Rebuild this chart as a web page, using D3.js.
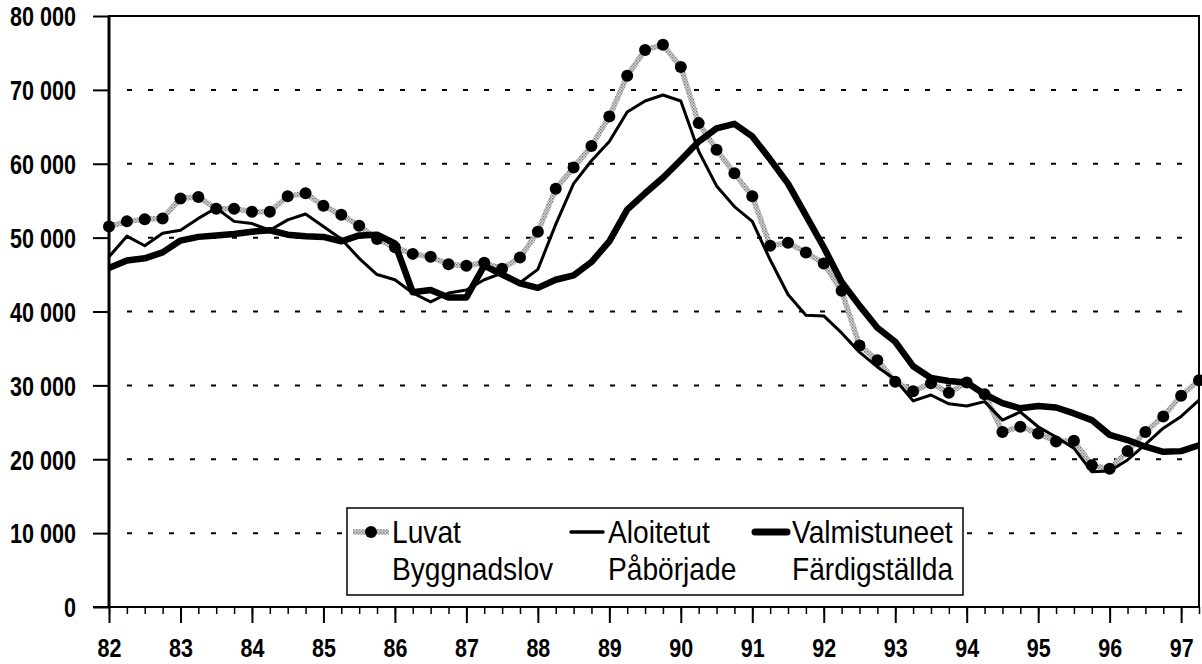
<!DOCTYPE html>
<html>
<head>
<meta charset="utf-8">
<script src="https://cdn.jsdelivr.net/npm/d3@7"></script>
<style>
    body { margin: 0; background: #fff; }
    svg { display: block; font-family: "Liberation Sans", Arial, sans-serif; }
    .tick text { font-weight: bold; fill: #000; }
    .legend text { font-size: 32px; fill: #000; }
</style>
</head>
<body>
<svg id="chart"></svg>
<script>
// Quarterly series, 1982 Q1 .. 1997 Q2 (one value per quarter)
const luvat = [
    51500, 52200, 52500, 52600, 55300, 55500, 53900, 53900, 53500, 53500,
    55600, 56000, 54300, 53100, 51600, 49800, 48700, 47800, 47400, 46400,
    46200, 46600, 45800, 47300, 50800, 56600, 59500, 62400, 66400, 71900,
    75400, 76100, 73100, 65500, 61900, 58700, 55600, 48900, 49300, 48000,
    46500, 42800, 35400, 33400, 30500, 29200, 30300, 29000, 30400, 28800,
    23700, 24400, 23500, 22400, 22500, 19200, 18700, 21100, 23700, 25800,
    28600, 30700
];

const aloitetut = [
    47400, 50200, 48900, 50600, 51000, 52600, 54000, 52200, 51900, 51000,
    52400, 53200, 51500, 49800, 47200, 45000, 44300, 42500, 41300, 42500,
    42900, 44300, 45200, 43900, 45700, 51800, 57300, 60400, 63000, 67000,
    68500, 69300, 68500, 61700, 57000, 54200, 52200, 47000, 42300, 39500,
    39400, 37100, 34500, 32500, 30800, 27900, 28700, 27500, 27200, 27800,
    25300, 26400, 24400, 23000, 21500, 18300, 18400, 19900, 22000, 24200,
    25800, 28000
];

const valmistuneet = [
    45900, 46900, 47200, 48000, 49600, 50100, 50300, 50500, 50800, 51000,
    50400, 50200, 50100, 49500, 50300, 50400, 49200, 42600, 42900, 41900,
    41900, 46200, 45000, 43800, 43200, 44300, 44900, 46700, 49500, 53800,
    56000, 58100, 60500, 63000, 64800, 65400, 63700, 60600, 57300, 53000,
    48700, 44000, 40800, 37800, 35900, 32600, 31000, 30600, 30400, 28800,
    27600, 26900, 27200, 27000, 26200, 25300, 23300, 22600, 21700, 21000,
    21100, 21900
];

const years = [82, 83, 84, 85, 86, 87, 88, 89, 90, 91, 92, 93, 94, 95, 96, 97];
const yTicks = [0, 10000, 20000, 30000, 40000, 50000, 60000, 70000, 80000];
const legendLabels = [
    ["Luvat", "Byggnadslov"],
    ["Aloitetut", "Påbörjade"],
    ["Valmistuneet", "Färdigställda"]
];

const chart = {
    width: 1202,
    height: 664,
    left: 109,
    right: 1199,
    top: 16,
    bottom: 607,
    narrow: 0.77, // no condensed font installed, squeeze Liberation Sans instead
    svg: d3.select('#chart'),
    x: d3.scaleLinear(),
    y: d3.scaleLinear()
};

const quarterOf = i => years[0] + i / 4; // position on the time axis
const fmt = d3.formatLocale({ decimal: ',', thousands: '\u00a0', grouping: [3], currency: ['', ''] }).format(',d');

chart.svg.attr('width', chart.width).attr('height', chart.height);

chart.x.domain([82, 97.25]).range([chart.left, chart.right]);
chart.y.domain([0, 80000]).range([chart.bottom, chart.top]);

// halftone-ish grey texture for the "Luvat" line
const defs = chart.svg.append('defs');
const pat = defs.append('pattern')
    .attr('id', 'halftone')
    .attr('patternUnits', 'userSpaceOnUse')
    .attr('width', 3).attr('height', 3);
pat.append('rect').attr('width', 3).attr('height', 3).attr('fill', '#dcdcdc');
pat.append('rect').attr('width', 1.5).attr('height', 1.5).attr('fill', '#7a7a7a');
pat.append('rect').attr('x', 1.5).attr('y', 1.5).attr('width', 1.5).attr('height', 1.5).attr('fill', '#9a9a9a');

// dashed grid lines
chart.svg.append('g')
    .selectAll('line')
    .data(yTicks.filter(d => d > 0 && d < 80000))
    .enter().append('line')
    .attr('x1', chart.left + 18)
    .attr('x2', chart.right)
    .attr('y1', d => chart.y(d))
    .attr('y2', d => chart.y(d))
    .attr('stroke', '#000')
    .attr('stroke-width', 2)
    .attr('stroke-dasharray', '5 16');

// y axis
chart.svg.append('g')
    .attr('transform', `translate(${chart.left},0)`)
    .call(d3.axisLeft(chart.y).tickValues(yTicks).tickSize(16).tickSizeOuter(0).tickFormat(fmt))
    .call(g => g.select('.domain').remove())
    .call(g => g.selectAll('.tick line').attr('stroke-width', 2))
    .call(g => g.selectAll('.tick text')
        .attr('font-size', 28)
        .attr('dy', '0.35em')
        .attr('x', -33 / chart.narrow)
        .attr('transform', `scale(${chart.narrow},1)`));

// x axis, quarter ticks and year ticks
chart.svg.append('g')
    .attr('transform', `translate(0,${chart.bottom})`)
    .call(d3.axisBottom(chart.x).tickValues(d3.range(luvat.length).map(quarterOf)).tickSize(7).tickSizeOuter(0).tickFormat(''))
    .call(g => g.select('.domain').remove())
    .call(g => g.selectAll('.tick line').attr('stroke-width', 1.5));

chart.svg.append('g')
    .attr('transform', `translate(0,${chart.bottom})`)
    .call(d3.axisBottom(chart.x).tickValues(years).tickSize(16).tickSizeOuter(0).tickFormat(d => d))
    .call(g => g.select('.domain').remove())
    .call(g => g.selectAll('.tick line').attr('stroke-width', 2))
    .call(g => g.selectAll('.tick text')
        .attr('font-size', 25)
        .attr('y', 50)
        .attr('dy', null)
        .attr('transform', 'scale(0.86,1)'));

// frame
chart.svg.append('path')
    .attr('d', `M${chart.left - 16},${chart.bottom}H${chart.right}V${chart.top}H${chart.left}V${chart.bottom}`)
    .attr('fill', 'none')
    .attr('stroke', '#000')
    .attr('stroke-width', 2);
chart.svg.append('line')
    .attr('x1', chart.left).attr('x2', chart.left)
    .attr('y1', chart.top).attr('y2', chart.bottom)
    .attr('stroke', '#000').attr('stroke-width', 3);

const line = d3.line()
    .x((d, i) => chart.x(quarterOf(i)))
    .y(d => chart.y(d));

const plot = chart.svg.append('g');

plot.append('path')
    .datum(luvat)
    .attr('d', line)
    .attr('fill', 'none')
    .attr('stroke', 'url(#halftone)')
    .attr('stroke-width', 5.5);

plot.append('path')
    .datum(aloitetut)
    .attr('d', line)
    .attr('fill', 'none')
    .attr('stroke', '#000')
    .attr('stroke-width', 3)
    .attr('stroke-linejoin', 'round');

plot.append('path')
    .datum(valmistuneet)
    .attr('d', line)
    .attr('fill', 'none')
    .attr('stroke', '#000')
    .attr('stroke-width', 6.5)
    .attr('stroke-linejoin', 'round');

plot.selectAll('circle')
    .data(luvat)
    .enter().append('circle')
    .attr('cx', (d, i) => chart.x(quarterOf(i)))
    .attr('cy', d => chart.y(d))
    .attr('r', 6)
    .attr('fill', '#000');

// legend
const legend = chart.svg.append('g').attr('class', 'legend');
legend.append('rect')
    .attr('x', 347).attr('y', 508)
    .attr('width', 616).attr('height', 87)
    .attr('fill', '#fff')
    .attr('stroke', '#000')
    .attr('stroke-width', 1.5);

const legendX = [353, 569, 753];
const items = legend.selectAll('.item')
    .data(legendLabels)
    .enter().append('g')
    .attr('class', 'item')
    .attr('transform', (d, i) => `translate(${legendX[i]},532)`);

items.each(function(d, i) {
    const g = d3.select(this);
    if (i === 0) {
        g.append('line').attr('x1', 0).attr('x2', 36)
            .attr('stroke', 'url(#halftone)').attr('stroke-width', 5.5);
        g.append('circle').attr('cx', 18).attr('r', 6).attr('fill', '#000');
    } else {
        g.append('line').attr('x1', 2).attr('x2', 34)
            .attr('stroke', '#000')
            .attr('stroke-width', i === 1 ? 3.5 : 7)
            .attr('stroke-linecap', 'round');
    }
    g.append('text').attr('transform', 'translate(39,11) scale(0.88,1)').text(d[0]);
    g.append('text').attr('transform', 'translate(39,48) scale(0.88,1)').text(d[1]);
});
</script>
</body>
</html>
